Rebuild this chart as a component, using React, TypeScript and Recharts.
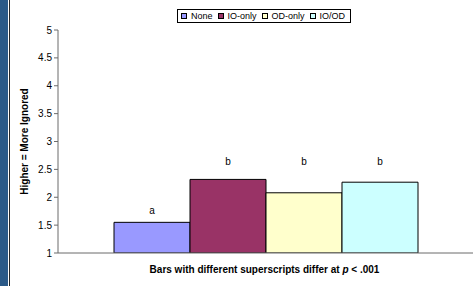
import React from 'react';
import { ComposedChart, Bar, XAxis, YAxis, Legend, Label, LabelList } from 'recharts';

const categories = [''];
const seriesNames = ['None', 'IO-only', 'OD-only', 'IO/OD'];
const seriesKeys = ['none', 'io', 'od', 'iood'];
const seriesValues = [1.55, 2.32, 2.08, 2.27];
const seriesColors = ['#9999FF', '#993366', '#FFFFCC', '#CCFFFF'];
const superscripts = ['a', 'b', 'b', 'b'];
const superscriptPos = [1.76, 2.64, 2.64, 2.64];
const yTicks = [1, 1.5, 2, 2.5, 3, 3.5, 4, 4.5, 5];
const yDomain = [1, 5];

const data = categories.map((c) => {
  const row: any = { cat: c };
  seriesKeys.forEach((k, i) => {
    row[k] = seriesValues[i];
  });
  return row;
});

const FONT = 'Liberation Sans, Arial, sans-serif';

const makeLabel = (idx: number) => (props: any) => {
  const { x, y, width, height, value } = props;
  const base = yDomain[0];
  const pxPerUnit = height / (value - base);
  const bottom = y + height;
  const ly = bottom - (superscriptPos[idx] - base) * pxPerUnit;
  return (
    <text
      x={x + width / 2}
      y={ly}
      textAnchor="middle"
      dominantBaseline="central"
      fontSize={10}
      fontFamily={FONT}
      fill="#000"
    >
      {superscripts[idx]}
    </text>
  );
};

const renderLegend = (props: any) => {
  const payload = [...(props.payload || [])].sort(
    (a: any, b: any) => seriesNames.indexOf(a.value) - seriesNames.indexOf(b.value)
  );
  return (
    <div
      style={{
        display: 'inline-flex',
        alignItems: 'center',
        border: '1px solid #000',
        background: '#fff',
        padding: '0px 5px 0px 3px',
        height: 14,
        fontFamily: FONT,
        fontSize: 9,
        color: '#000',
        boxSizing: 'border-box',
        whiteSpace: 'nowrap',
      }}
    >
      {payload.map((p: any, i: number) => (
        <span key={i} style={{ display: 'inline-flex', alignItems: 'center', marginRight: i < payload.length - 1 ? 5 : 0 }}>
          <span
            style={{
              display: 'inline-block',
              width: 6,
              height: 6,
              background: p.color,
              border: '1px solid #000',
              boxSizing: 'border-box',
              marginRight: 4,
            }}
          />
          <span>{p.value}</span>
        </span>
      ))}
    </div>
  );
};

const YLabel = (props: any) => {
  const vb = props.viewBox;
  const cx = 24;
  const cy = vb.y + vb.height / 2;
  return (
    <text
      x={cx}
      y={cy}
      transform={`rotate(-90 ${cx} ${cy})`}
      textAnchor="middle"
      dominantBaseline="central"
      fontSize={10}
      fontWeight="bold"
      fontFamily={FONT}
      fill="#000"
    >
      Higher = More Ignored
    </text>
  );
};

const XLabel = (props: any) => {
  const vb = props.viewBox;
  const cx = vb.x + vb.width / 2 - 1;
  return (
    <text
      x={cx}
      y={269}
      textAnchor="middle"
      dominantBaseline="central"
      fontSize={10}
      fontWeight="bold"
      fontFamily={FONT}
      fill="#000"
    >
      Bars with different superscripts differ at <tspan fontStyle="italic">p</tspan> {'< .001'}
    </text>
  );
};

export default function App() {
  return (
    <div style={{ position: 'absolute', left: 0, top: 0, width: 476, height: 286, background: '#fff' }}>
      <div style={{ position: 'absolute', left: 0, top: 0, width: 8, height: 286, background: '#2B5A88' }} />
      <div style={{ position: 'absolute', left: 9, top: 0, width: 1, height: 286, background: '#2a2a2a' }} />
      <ComposedChart
        width={476}
        height={286}
        data={data}
        margin={{ top: 30, right: 3, bottom: 0, left: 8 }}
        barGap={0}
        barCategoryGap={56}
        style={{ position: 'absolute', left: 0, top: 0 }}
      >
        <XAxis
          dataKey="cat"
          tick={false}
          tickLine={false}
          axisLine={{ stroke: '#6b6b6b', strokeWidth: 1 }}
          height={33}
        >
          <Label content={<XLabel />} />
        </XAxis>
        <YAxis
          type="number"
          domain={yDomain}
          ticks={yTicks}
          interval={0}
          width={50}
          tickSize={4}
          tickMargin={2}
          axisLine={{ stroke: '#6b6b6b', strokeWidth: 1 }}
          tickLine={{ stroke: '#6b6b6b' }}
          tick={{ fontSize: 10, fontFamily: FONT, fill: '#000' }}
          allowDataOverflow
        >
          <Label content={<YLabel />} />
        </YAxis>
        <Legend
          verticalAlign="middle"
          align="center"
          content={renderLegend}
          wrapperStyle={{ top: 8, left: 177, width: 'auto', lineHeight: '11px' }}
        />
        {seriesKeys.map((k, i) => (
          <Bar
            key={k}
            dataKey={k}
            name={seriesNames[i]}
            fill={seriesColors[i]}
            stroke="#000"
            strokeWidth={1}
            isAnimationActive={false}
          >
            <LabelList dataKey={k} content={makeLabel(i)} />
          </Bar>
        ))}
      </ComposedChart>
    </div>
  );
}
